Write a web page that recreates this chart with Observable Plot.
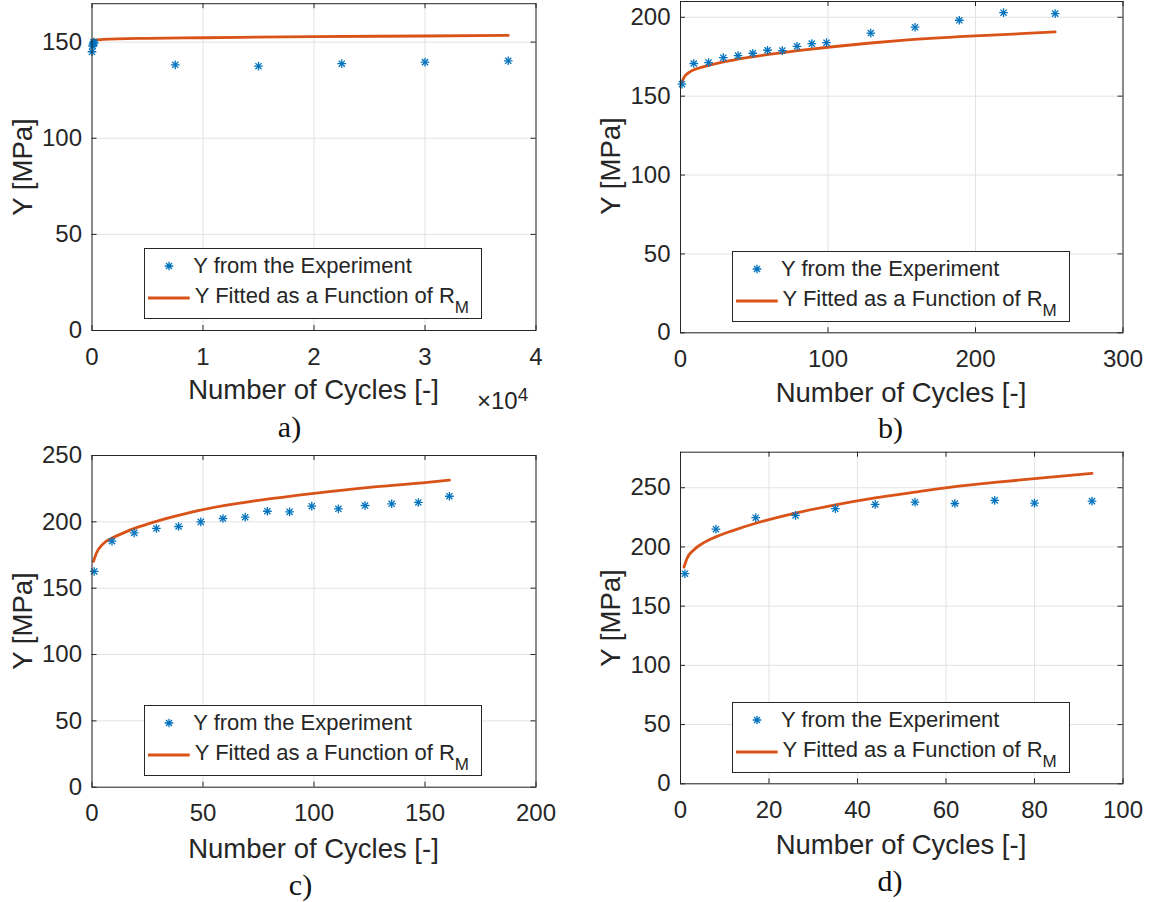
<!DOCTYPE html>
<html><head><meta charset="utf-8">
<script src="https://cdn.jsdelivr.net/npm/d3@7"></script>
<script src="https://cdn.jsdelivr.net/npm/@observablehq/plot@0.6"></script>
<style>
body{margin:0;background:#fff;}
#wrap{position:relative;width:1153px;height:902px;overflow:hidden;font-family:"Liberation Sans",Arial,sans-serif;color:#262626;background:#fff;}
.pl{position:absolute;}
.lab{position:absolute;white-space:nowrap;line-height:1;}
.xl{font-size:27.5px;transform:translate(-50%,-50%);}
.yl{font-size:27.5px;transform:translate(-50%,-50%) rotate(-90deg);}
.cap{font-family:"Liberation Serif","DejaVu Serif",serif;font-size:30px;transform:translate(-50%,-50%);color:#111;}
.mult{font-size:24px;transform:translateY(-50%);}
.mult sup{font-size:19px;position:relative;top:-4px;vertical-align:top;}
.leg{position:absolute;border:1px solid #262626;background:#fff;box-sizing:border-box;font-size:22px;}
.leg span.t{position:absolute;white-space:nowrap;line-height:1;transform:translateY(-50%);}
.leg span.sub{font-size:17px;position:relative;top:10px;}
</style>
</head><body>
<div id="wrap"></div>
<script>
// ---------- data ----------
// Panel a)
const aExpX = [1, 50, 100, 150, 200, 7500, 15000, 22500, 30000, 37500];
const aExpY = [145, 148, 149, 150, 149.5, 138.2, 137.5, 138.8, 139.6, 140.3];
const aFitX = [1, 100, 1000, 5000, 10000, 20000, 30000, 37500];
const aFitY = [150.5, 151.0, 151.4, 152.0, 152.3, 152.9, 153.2, 153.5];
const aXTicks = [0, 10000, 20000, 30000, 40000];
const aYTicks = [0, 50, 100, 150];
// Panel b)
const bExpX = [1, 9, 19, 29, 39, 49, 59, 69, 79, 89, 99, 129, 159, 189, 219, 254];
const bExpY = [157.6, 170.7, 171.3, 174.4, 175.7, 177.2, 179.1, 178.9, 181.6, 183.3, 183.9, 190, 193.7, 198.1, 202.9, 202.3];
const bFitX = [0.5, 2.3, 5.6, 10, 16, 27, 38.5, 61, 84, 100, 129, 150, 200, 254];
const bFitY = [157.6, 161.8, 164.9, 167.1, 168.7, 171.3, 173.4, 176.6, 179.3, 181, 183.7, 185.3, 188.2, 190.7];
const bXTicks = [0, 100, 200, 300];
const bYTicks = [0, 50, 100, 150, 200];
// Panel c)
const cExpX = [1, 9, 19, 29, 39, 49, 59, 69, 79, 89, 99, 111, 123, 135, 147, 161];
const cExpY = [162.6, 185.4, 191.7, 195, 196.5, 200, 202.5, 203.5, 208, 207.5, 211.8, 209.8, 212.3, 213.6, 214.6, 219.3];
const cFitX = [0.7, 2, 5, 10, 16, 23, 32, 44, 60, 75, 100, 125, 150, 161];
const cFitY = [170.3, 176.5, 183.4, 188.5, 193, 197.2, 201.8, 207, 212.5, 216.2, 221.5, 226, 229.5, 231.5];
const cXTicks = [0, 50, 100, 150, 200];
const cYTicks = [0, 50, 100, 150, 200, 250];
// Panel d)
const dExpX = [1, 8, 17, 26, 35, 44, 53, 62, 71, 80, 93];
const dExpY = [177.4, 215, 224.7, 226.6, 232.3, 235.9, 237.8, 236.7, 239.3, 237, 238.7];
const dFitX = [0.8, 1.5, 3, 5, 8, 12, 17, 26, 35, 44, 53, 62, 71, 80, 93];
const dFitY = [183, 190.5, 197.5, 203, 208.5, 214, 220, 228.6, 235.6, 241.5, 246.3, 251, 254.5, 257.6, 262.1];
const dXTicks = [0, 20, 40, 60, 80, 100];
const dYTicks = [0, 50, 100, 150, 200, 250];

const xLabel = "Number of Cycles [-]";
const yLabel = "Y [MPa]";
const legExp = "Y from the Experiment";
const legFit = "Y Fitted as a Function of R";
const legFitSub = "M";
const captions = ["a)", "b)", "c)", "d)"];

const BLUE = "#0072BD", ORANGE = "#D95319", AX = "#262626", GRID = "#e3e3e3";
const wrap = document.getElementById("wrap");

function panel(o) {
  const exp = o.expX.map((x, i) => ({x, y: o.expY[i]}));
  const fit = o.fitX.map((x, i) => ({x, y: o.fitY[i]}));
  const ih = o.height - o.mt - o.mb, iw = o.width - o.ml - o.mr;
  const T = 5;
  const fmt = o.xFmt || (d => String(d));
  const svg = Plot.plot({
    width: o.width, height: o.height,
    marginTop: o.mt, marginBottom: o.mb, marginLeft: o.ml, marginRight: o.mr,
    x: {domain: o.xDomain}, y: {domain: o.yDomain},
    style: {fontFamily: "'Liberation Sans', Arial, sans-serif", fontSize: "24px", color: AX, background: "transparent", overflow: "visible"},
    marks: [
      Plot.gridX(o.xTicks, {stroke: GRID, strokeOpacity: 1}),
      Plot.gridY(o.yTicks, {stroke: GRID, strokeOpacity: 1}),
      Plot.tickX(o.xTicks, {x: d => d, insetTop: ih - T, stroke: AX}),
      Plot.tickX(o.xTicks, {x: d => d, insetBottom: ih - T, stroke: AX}),
      Plot.tickY(o.yTicks, {y: d => d, insetRight: iw - T, stroke: AX}),
      Plot.tickY(o.yTicks, {y: d => d, insetLeft: iw - T, stroke: AX}),
      Plot.axisX(o.xTicks, {tickSize: 0, tickPadding: 17, tickFormat: fmt, label: null, fontSize: 24}),
      Plot.axisY(o.yTicks, {tickSize: 0, tickPadding: 10, tickFormat: d => String(d), label: null, fontSize: 24}),
      Plot.line(fit, {x: "x", y: "y", stroke: ORANGE, strokeWidth: 2.8, curve: "monotone-x"}),
      Plot.dot(exp, {x: "x", y: "y", symbol: "plus", r: 2.9, stroke: BLUE, strokeWidth: 1.3}),
      Plot.dot(exp, {x: "x", y: "y", symbol: "times", r: 2.9, stroke: BLUE, strokeWidth: 1.3}),
      Plot.frame({stroke: AX})
    ]
  });
  svg.classList.add("pl");
  svg.style.left = o.left + "px";
  svg.style.top = o.top + "px";
  wrap.appendChild(svg);
}

function label(cls, html, x, y) {
  const d = document.createElement("div");
  d.className = "lab " + cls;
  d.style.left = x + "px"; d.style.top = y + "px";
  d.innerHTML = html;
  wrap.appendChild(d);
}

function legend(x, y, w, h) {
  const d = document.createElement("div");
  d.className = "leg";
  d.style.left = x + "px"; d.style.top = y + "px";
  d.style.width = w + "px"; d.style.height = h + "px";
  d.innerHTML = `<svg width="${w}" height="${h}" style="position:absolute;left:-1px;top:-1px">
    <g stroke="${BLUE}" stroke-width="1.3" fill="none"><path d="M20.7 18H29.3M25 13.7V22.3M22 15L28 21M22 21L28 15"/></g>
    <line x1="4" x2="45.7" y1="50" y2="50" stroke="${ORANGE}" stroke-width="2.8"/></svg>
    <span class="t" style="left:48px;top:17px">${legExp}</span>
    <span class="t" style="left:49.5px;top:47px">${legFit}<span class="sub">${legFitSub}</span></span>`;
  wrap.appendChild(d);
}

// a)
panel({left: 0, top: 0, width: 578, height: 440, mt: 3.2, mb: 110, ml: 91.5, mr: 42.5,
  xDomain: [0, 40000], yDomain: [0, 170], xTicks: aXTicks, yTicks: aYTicks, xFmt: d => String(d / 10000),
  expX: aExpX, expY: aExpY, fitX: aFitX, fitY: aFitY});
// b)
panel({left: 578, top: 0, width: 575, height: 440, mt: 1, mb: 107.7, ml: 102, mr: 30.5,
  xDomain: [0, 300], yDomain: [0, 210], xTicks: bXTicks, yTicks: bYTicks,
  expX: bExpX, expY: bExpY, fitX: bFitX, fitY: bFitY});
// c)
panel({left: 0, top: 440, width: 578, height: 462, mt: 15, mb: 115.3, ml: 91.5, mr: 42.5,
  xDomain: [0, 200], yDomain: [0, 250], xTicks: cXTicks, yTicks: cYTicks,
  expX: cExpX, expY: cExpY, fitX: cFitX, fitY: cFitY});
// d)
panel({left: 578, top: 440, width: 575, height: 462, mt: 11.7, mb: 118.7, ml: 102, mr: 30.5,
  xDomain: [0, 100], yDomain: [0, 280], xTicks: dXTicks, yTicks: dYTicks,
  expX: dExpX, expY: dExpY, fitX: dFitX, fitY: dFitY});

// axis labels
label("xl", xLabel, 313.5, 390);
label("xl", xLabel, 901, 393);
label("xl", xLabel, 313.5, 849);
label("xl", xLabel, 901, 845);
label("yl", yLabel, 23, 166.5);
label("yl", yLabel, 611, 166);
label("yl", yLabel, 23, 621);
label("yl", yLabel, 611, 618);
label("mult", "\u00d710<sup>4</sup>", 477, 401);
// captions
label("cap", captions[0], 289.5, 427);
label("cap", captions[1], 890.5, 428);
label("cap", captions[2], 300.5, 885);
label("cap", captions[3], 890, 881);
// legends
legend(144.3, 247.7, 338, 71.6);
legend(732, 250.7, 338, 71);
legend(144.3, 705, 338, 71);
legend(732, 701.7, 338, 71);
</script>
</body></html>
